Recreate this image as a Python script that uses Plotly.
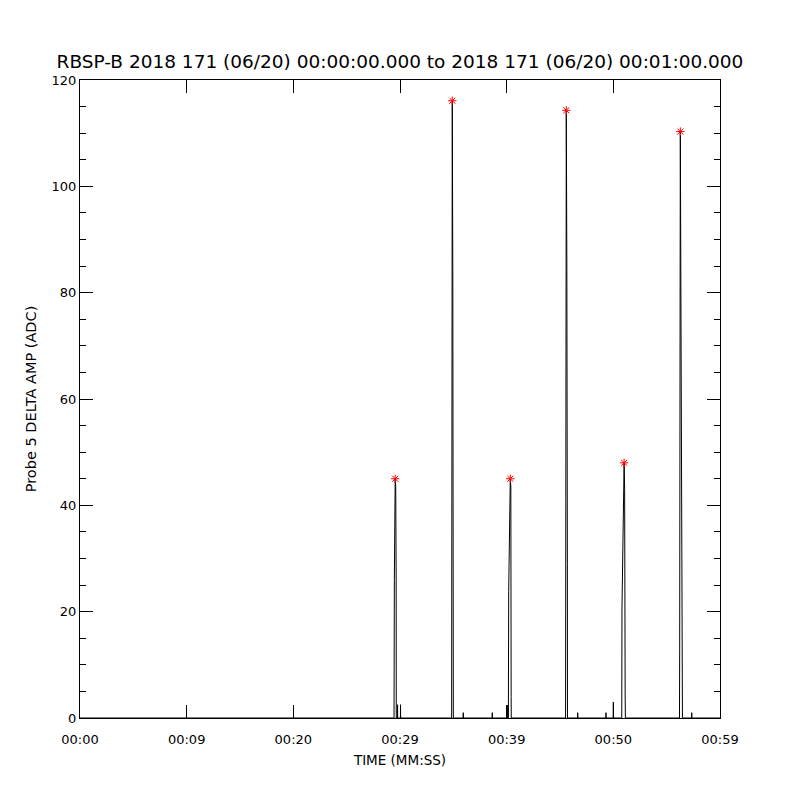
import plotly.graph_objects as go

# ---- data (seconds after 00:00:00, amplitude ADC) ----
time_s = [0.0,
          29.44, 29.47, 29.55, 29.60, 29.64, 29.65,
          29.76, 29.77, 29.78, 30.04, 30.05, 30.06,
          34.84, 34.86, 34.90, 34.95, 34.99, 35.00,
          35.92, 35.93, 35.94, 38.64, 38.65, 38.66,
          40.08, 40.10, 40.12,
          40.16, 40.19, 40.34, 40.39, 40.42, 40.43,
          45.52, 45.53, 45.59, 45.64, 45.69, 45.70,
          46.65, 46.66, 46.67, 49.30, 49.31, 49.32,
          49.99, 50.00, 50.01,
          50.79, 50.81, 51.01, 51.06, 51.11, 51.13,
          56.20, 56.22, 56.28, 56.33, 56.47, 56.48,
          57.34, 57.35, 57.36,
          60.0]
amplitude = [0.0,
             0.0, 26.0, 45.0, 43.5, 26.5, 0.0,
             0.0, 2.5, 0.0, 0.0, 2.5, 0.0,
             0.0, 19.0, 116.1, 84.0, 25.0, 0.0,
             0.0, 1.0, 0.0, 0.0, 1.0, 0.0,
             0.0, 2.4, 0.0,
             0.0, 23.8, 45.0, 43.5, 4.0, 0.0,
             0.0, 15.7, 114.3, 86.4, 29.0, 0.0,
             0.0, 1.0, 0.0, 0.0, 1.0, 0.0,
             0.0, 3.0, 0.0,
             0.0, 20.7, 48.0, 43.0, 4.3, 0.0,
             0.0, 12.8, 110.3, 88.6, 33.8, 0.0,
             0.0, 1.0, 0.0,
             0.0]

peak_time = [29.55, 34.90, 40.34, 45.59, 51.01, 56.28]
peak_amp = [45.0, 116.1, 45.0, 114.3, 48.0, 110.3]

x_tickvals = [0, 10, 20, 30, 40, 50, 60]
x_ticktext = ["00:00", "00:09", "00:20", "00:29", "00:39", "00:50", "00:59"]

title_text = "RBSP-B 2018 171 (06/20) 00:00:00.000 to 2018 171 (06/20) 00:01:00.000"

FONT = "DejaVu Sans, Liberation Sans, sans-serif"

fig = go.Figure()
fig.add_trace(go.Scatter(x=time_s, y=amplitude, mode="lines",
                         line=dict(color="black", width=1),
                         showlegend=False, hoverinfo="skip"))
fig.add_trace(go.Scatter(x=peak_time, y=peak_amp, mode="markers",
                         marker=dict(symbol="asterisk", size=7,
                                     color="red",
                                     line=dict(color="red", width=1)),
                         showlegend=False))

# page has an 8px body margin, so margins are offset by 8px
fig.update_layout(
    width=800, height=800,
    margin=dict(l=72, r=88, t=72, b=90, autoexpand=False),
    paper_bgcolor="white", plot_bgcolor="white",
    font=dict(family=FONT, color="black", size=13),
    title=dict(text=title_text, x=(400 - 8) / 800, xanchor="center",
               y=1 - 54 / 800, yanchor="middle",
               font=dict(family=FONT, size=18.5, color="black")),
    xaxis=dict(range=[0, 60], tickmode="array", tickvals=x_tickvals,
               ticktext=x_ticktext, ticks="inside", ticklen=13,
               tickwidth=1, tickcolor="black",
               showline=True, linecolor="black", linewidth=1,
               mirror="ticks", showgrid=False, zeroline=False,
               tickfont=dict(size=13), ticklabelstandoff=9,
               title=dict(text="TIME (MM:SS)", font=dict(size=13.5), standoff=9)),
    yaxis=dict(range=[0, 120], tickmode="linear", tick0=0, dtick=20,
               ticks="inside", ticklen=13, tickwidth=1, tickcolor="black",
               showline=True, linecolor="black", linewidth=1,
               mirror="ticks", showgrid=False, zeroline=False,
               tickfont=dict(size=13),
               minor=dict(dtick=5, ticks="inside", ticklen=6,
                          tickcolor="black", showgrid=False),
               title=dict(text="Probe 5 DELTA AMP (ADC)", font=dict(size=14.5),
                          standoff=11)),
)

fig.write_html("out.html")
